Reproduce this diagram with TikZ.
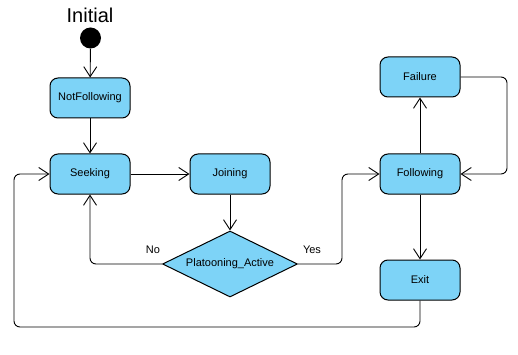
\documentclass[tikz,border=0pt]{standalone}
\usepackage{xcolor}
\usepackage{fontspec}
\setmainfont{Liberation Sans}
\usepackage{tikz}
\usetikzlibrary{arrows.meta,shapes.geometric}

\definecolor{stateblue}{HTML}{7DD3F7}

\tikzset{
    state/.style={draw, line width=1pt, fill=stateblue, rounded corners=8pt,
        minimum width=80pt, minimum height=40pt, inner sep=0pt, font=\fontsize{11}{13}\selectfont},
    choice/.style={draw, line width=1pt, fill=stateblue, diamond, aspect=2.05,
        minimum width=135pt, minimum height=66pt, inner sep=0pt, font=\fontsize{11}{13}\selectfont},
    trans/.style={draw, line width=0.9pt, rounded corners=6pt,
        -{Straight Barb[length=10pt,width=13pt,line width=0.9pt]}},
    guard/.style={font=\fontsize{11}{13}\selectfont}
}

\begin{document}
\begin{tikzpicture}[x=1pt, y=-1pt]

        \useasboundingbox (0,0) rectangle (518,355);

        % ---------- Start ----------
        \node[font=\fontsize{20}{22}\selectfont] (InitLabel) at (90,15) {Initial};
        \node[circle, fill=black, minimum size=21pt, inner sep=0pt] (Init) at (90.5,38) {};

        % ---------- States ----------
        \node[state] (NotFollowing) at (90,98) {NotFollowing};
        \node[state] (Seeking) at (90,174) {Seeking};
        \node[state] (Joining) at (230,174) {Joining};
        \node[choice] (Active) at (230,264) {Platooning\_Active};
        \node[state] (Failure) at (420,77) {Failure};
        \node[state] (Following) at (420,174) {Following};
        \node[state] (Exit) at (420,280) {Exit};

        % ---------- Transitions ----------
        \draw[trans] (Init) -- (NotFollowing);
        \draw[trans] (NotFollowing) -- (Seeking);
        \draw[trans] (Seeking) -- (Joining);
        \draw[trans] (Joining) -- (Active);

        % guard branches
        \draw[trans] (Active.west) -| (Seeking.south);
        \draw[trans] (Active.east) -- (342,264) |- (Following.west);
        \node[guard] (No) at (153,250) {No};
        \node[guard] (Yes) at (312,250) {Yes};

        % failure loop
        \draw[trans] (Following) -- (Failure);
        \draw[trans] (Failure.east) -- (507,77) |- (Following.east);

        % exit and back to seeking
        \draw[trans] (Following) -- (Exit);
        \draw[trans] (Exit.south) |- (14,327) |- (Seeking.west);

\end{tikzpicture}
\end{document}
